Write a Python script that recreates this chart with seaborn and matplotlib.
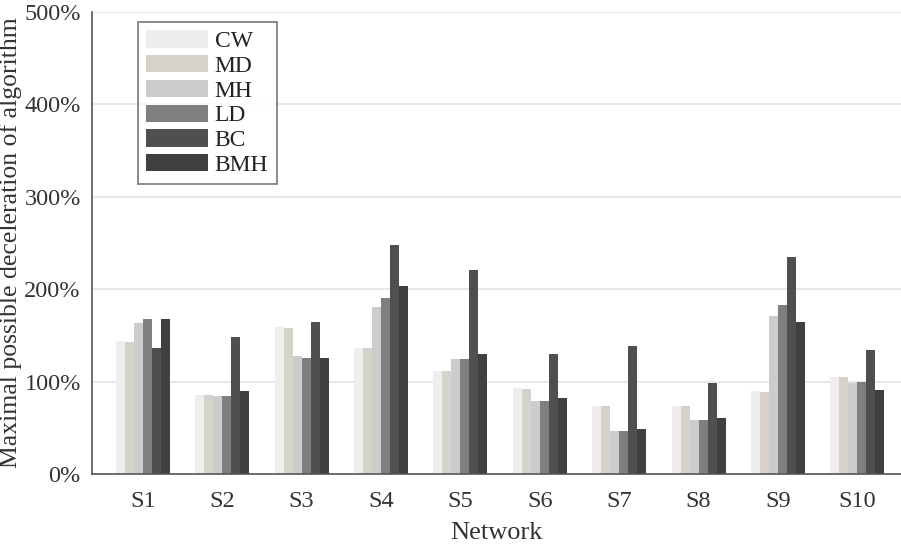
import pandas as pd
import matplotlib.pyplot as plt
import seaborn as sns
from matplotlib.ticker import FuncFormatter

networks = ['S1', 'S2', 'S3', 'S4', 'S5', 'S6', 'S7', 'S8', 'S9', 'S10']
algorithms = ['CW', 'MD', 'MH', 'LD', 'BC', 'BMH']

# values in %
cw = [144, 85, 159, 136, 111, 93, 73, 74, 90, 105]
md = [143, 85, 158, 136, 111, 92, 73, 74, 89, 105]
mh = [163, 84, 128, 181, 124, 79, 47, 58, 171, 98]
ld = [168, 84, 126, 190, 124, 79, 46, 58, 183, 99]
bc = [136, 148, 164, 248, 221, 130, 139, 98, 235, 134]
bmh = [168, 90, 125, 203, 130, 82, 49, 60, 164, 91]

colors = ['#eeeeee', '#d6d2ca', '#cccccc', '#7f7f7f', '#4f4f4f', '#404040']

rows = []
for alg, vals in zip(algorithms, [cw, md, mh, ld, bc, bmh]):
    for net, v in zip(networks, vals):
        rows.append({'Network': net, 'Algorithm': alg, 'Value': v})
df = pd.DataFrame(rows)

sns.set_style('white')
plt.rcParams['font.family'] = ['Liberation Serif', 'DejaVu Serif']

fig = plt.figure(figsize=(9.01, 5.46), dpi=100)
ax = fig.add_axes([0.102, 0.132, 0.898, 0.846])

sns.barplot(data=df, x='Network', y='Value', hue='Algorithm', hue_order=algorithms,
            palette=colors, width=0.68, linewidth=0, saturation=1, ax=ax, zorder=2)

ax.set_ylim(0, 500)
ax.set_xlim(-0.64, 9.55)
ax.set_yticks(range(0, 501, 100))
ax.yaxis.set_major_formatter(FuncFormatter(lambda v, p: f'{int(v)}%'))
ax.yaxis.grid(True, color='#e3e3e3', linewidth=1.2, zorder=0)
ax.set_axisbelow(True)

for side in ['top', 'right']:
    ax.spines[side].set_visible(False)
for side in ['left', 'bottom']:
    ax.spines[side].set_color('#555555')
    ax.spines[side].set_linewidth(1.2)
ax.spines['bottom'].set_zorder(3)

ax.tick_params(axis='y', direction='in', length=5, color='#555555', labelsize=17.5,
               labelcolor='#333333', pad=8)
ax.tick_params(axis='x', length=0, labelsize=17.5, labelcolor='#333333', pad=12)

ax.set_xlabel('Network', fontsize=19, color='#333333')
ax.xaxis.set_label_coords(0.5, -0.105)
ax.set_ylabel('Maximal possible deceleration of algorithm', fontsize=18.5,
              color='#333333')
ax.yaxis.set_label_coords(-0.087, 0.5)

leg = ax.legend(loc='upper left', bbox_to_anchor=(0.057, 0.978), fontsize=17,
                handlelength=2.6, handleheight=0.75, handletextpad=0.3,
                labelspacing=0.12, borderpad=0.35, borderaxespad=0,
                frameon=True, fancybox=False)
leg.get_frame().set_edgecolor('#555555')
leg.get_frame().set_linewidth(1.2)
for h in leg.legend_handles:
    h.set_linewidth(0)
for t in leg.get_texts():
    t.set_color('#222222')

plt.savefig('out.png', dpi=100)
